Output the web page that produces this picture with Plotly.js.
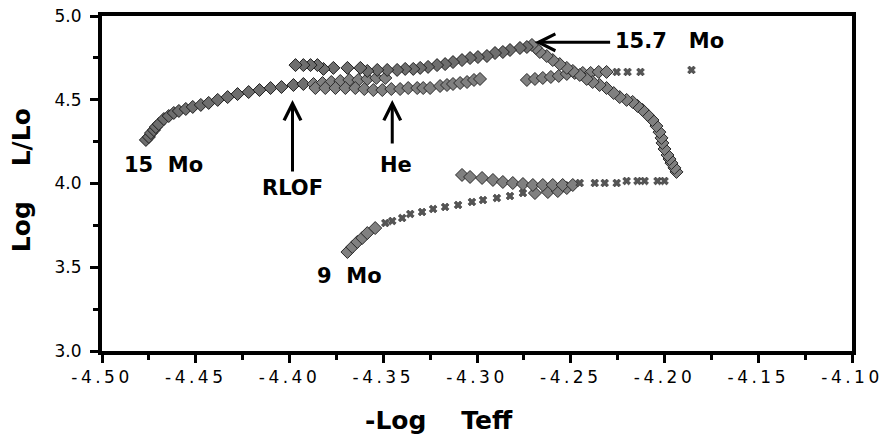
<!DOCTYPE html>
<html>
<head>
<meta charset="utf-8">
<script src="https://cdn.plot.ly/plotly-3.0.1.min.js"></script>
<style>
  html, body { margin: 0; padding: 0; background: #fff; }
  #plot { width: 885px; height: 435px; }
  #plot .xtick text { letter-spacing: 3.5px; }
</style>
</head>
<body>
<div id="plot"></div>
<script>
// ---- Data (x = -Log Teff, y = Log L/Lo) ----
// 15 Mo primary: ZAMS up to RLOF
const primaryZamsX = [-4.4766,-4.4750,-4.4739,-4.4723,-4.4713,-4.4697,-4.4670,-4.4644,-4.4617,-4.4590,-4.4553,-4.4516,-4.4473,-4.4431,-4.4383,-4.4330,-4.4277,-4.4218,-4.4160,-4.4101,-4.4043,-4.3979,-4.3926];
const primaryZamsY = [4.260,4.278,4.301,4.319,4.337,4.355,4.385,4.403,4.421,4.433,4.445,4.457,4.469,4.481,4.499,4.516,4.534,4.546,4.558,4.570,4.576,4.588,4.594];
// 15 Mo primary: RLOF to He
const primaryRlofX = [-4.3872,-4.3824,-4.3777,-4.3729,-4.3681,-4.3633,-4.3585,-4.3537,-4.3489,-4.3862,-4.3809,-4.3755,-4.3702,-4.3649,-4.3601,-4.3553,-4.3505,-4.3457,-4.3410,-4.3367];
const primaryRlofY = [4.594,4.600,4.606,4.612,4.618,4.618,4.624,4.630,4.630,4.570,4.570,4.570,4.570,4.570,4.564,4.558,4.558,4.564,4.564,4.570];
// primary after He
const primaryHeX = [-4.3319,-4.3287,-4.3250,-4.3197,-4.3160,-4.3128,-4.3090,-4.3053,-4.3016,-4.2984];
const primaryHeY = [4.570,4.570,4.570,4.582,4.588,4.594,4.600,4.606,4.618,4.624];
const primaryLateX = [-4.2734,-4.2691,-4.2649,-4.2606,-4.2564,-4.2521,-4.2479,-4.2436,-4.2394,-4.2351,-4.2309];
const primaryLateY = [4.618,4.624,4.630,4.636,4.642,4.654,4.660,4.660,4.660,4.666,4.666];
const primaryEndX = [-4.2255,-4.2197,-4.2128,-4.1856];
const primaryEndY = [4.666,4.666,4.666,4.678];

// 9 Mo secondary: start
const secStartX = [-4.3691,-4.3665,-4.3638,-4.3612,-4.3585,-4.3543];
const secStartY = [3.591,3.621,3.651,3.675,3.704,3.734];
const secRiseX = [-4.3489,-4.3452,-4.3399,-4.3356,-4.3293,-4.3234,-4.3170,-4.3101,-4.3027,-4.2968,-4.2894,-4.2824,-4.2755];
const secRiseY = [3.764,3.776,3.794,3.818,3.830,3.848,3.860,3.872,3.890,3.901,3.913,3.925,3.943];
const secClumpX = [-4.2691,-4.2622,-4.2569,-4.2521];
const secClumpY = [3.943,3.949,3.955,3.973];
// row near Log L = 4.0
const secRowX = [-4.3080,-4.3037,-4.2973,-4.2915,-4.2862,-4.2809,-4.2755,-4.2702,-4.2649,-4.2596,-4.2543,-4.2489];
const secRowY = [4.051,4.039,4.033,4.021,4.009,4.003,3.997,3.991,3.991,3.991,3.991,3.991];
const secRowEndX = [-4.2452,-4.2372,-4.2319,-4.2255,-4.2202,-4.2144,-4.2106,-4.2037,-4.2000];
const secRowEndY = [4.003,4.003,4.003,4.003,4.015,4.015,4.015,4.015,4.015];
// accretion loop up to 15.7 Mo
const secLoopX = [-4.1936,-4.1947,-4.1963,-4.1973,-4.1984,-4.2000,-4.2011,-4.2016,-4.2027,-4.2043,-4.2064,-4.2090,-4.2117,-4.2144,-4.2170,-4.2202,-4.2239,-4.2271,-4.2309,-4.2346,-4.2383,-4.2415,-4.2452,-4.2489,-4.2521,-4.2559,-4.2596,-4.2628,-4.2665,-4.2686,-4.2707];
const secLoopY = [4.069,4.093,4.122,4.146,4.170,4.206,4.242,4.272,4.307,4.343,4.379,4.409,4.439,4.463,4.487,4.499,4.516,4.540,4.570,4.588,4.606,4.624,4.648,4.672,4.690,4.713,4.737,4.761,4.785,4.809,4.827];
// 15.7 Mo back towards the main sequence
const secBackX = [-4.2734,-4.2771,-4.2824,-4.2862,-4.2904,-4.2947,-4.2995,-4.3037,-4.3080,-4.3128,-4.3170,-4.3213,-4.3261,-4.3303,-4.3340,-4.3383,-4.3426,-4.3479,-4.3532,-4.3585,-4.3622,-4.3691,-4.3766,-4.3819,-4.3851,-4.3888,-4.3926,-4.3968];
const secBackY = [4.815,4.809,4.797,4.785,4.779,4.761,4.755,4.749,4.737,4.725,4.713,4.707,4.696,4.690,4.684,4.684,4.678,4.678,4.678,4.672,4.690,4.690,4.690,4.684,4.707,4.707,4.707,4.707];

const xTickVals = [-4.50,-4.45,-4.40,-4.35,-4.30,-4.25,-4.20,-4.15,-4.10];
const xTickText = ['-4.50','-4.45','-4.40','-4.35','-4.30','-4.25','-4.20','-4.15','-4.10'];
const yTickVals = [3.0,3.5,4.0,4.5,5.0];
const yTickText = ['3.0','3.5','4.0','4.5','5.0'];

// ---- styles ----
const dense = {symbol:'diamond', size:10, color:'#808080', line:{color:'#2a2a2a', width:1}};
const big = {symbol:'diamond', size:10, color:'#6e6e6e', line:{color:'#1e1e1e', width:1}};
const sparse = {symbol:'x', size:7, color:'#555555', line:{color:'#222', width:0.5}};

function tr(x, y, m) { return {x:x, y:y, type:'scatter', mode:'markers', marker:m, hoverinfo:'x+y', showlegend:false}; }

const traces = [
  tr(primaryZamsX, primaryZamsY, big),
  tr(primaryRlofX, primaryRlofY, dense),
  tr(primaryHeX, primaryHeY, dense),
  tr(primaryLateX, primaryLateY, dense),
  tr(primaryEndX, primaryEndY, sparse),
  tr(secStartX, secStartY, dense),
  tr(secRiseX, secRiseY, sparse),
  tr(secClumpX, secClumpY, dense),
  tr(secRowX, secRowY, dense),
  tr(secRowEndX, secRowEndY, sparse),
  tr(secLoopX, secLoopY, dense),
  tr(secBackX, secBackY, big)
];

const lblFont = {family:'DejaVu Sans', size:21, color:'#000', weight:'bold'};
const titleFont = {family:'DejaVu Sans', size:25, color:'#000', weight:'bold'};

function arrow(x, y, ax, ay) {
  return {x:x, y:y, ax:ax, ay:ay, xref:'x', yref:'y', axref:'x', ayref:'y',
          text:'', showarrow:true, arrowhead:5, arrowsize:1.1, arrowwidth:3, arrowcolor:'#000', standoff:0, startstandoff:0};
}
function label(x, y, t, xa) {
  return {x:x, y:y, xref:'x', yref:'y', text:t, showarrow:false, font:lblFont, xanchor:xa||'center', yanchor:'middle'};
}

const annotations = [
  label(-4.467, 4.113, '15  Mo'),
  label(-4.3984, 3.973, 'RLOF'),
  label(-4.3431, 4.110, 'He'),
  label(-4.3681, 3.448, '9  Mo'),
  label(-4.2277, 4.851, '15.7   Mo', 'left'),
  arrow(-4.3984, 4.499, -4.3984, 4.063),
  arrow(-4.3452, 4.499, -4.3452, 4.230),
  arrow(-4.2691, 4.843, -4.2282, 4.843),
  {x:0.4495, y:-0.206, xref:'paper', yref:'paper', text:'-Log    Teff', showarrow:false, font:titleFont, xanchor:'center', yanchor:'middle'},
  {x:-0.108, y:0.51, xref:'paper', yref:'paper', text:'Log    L/Lo', showarrow:false, font:titleFont, textangle:-90, xanchor:'center', yanchor:'middle'}
];

const layout = {
  width:885, height:435,
  margin:{l:102, r:33, t:16, b:84},
  paper_bgcolor:'#fff', plot_bgcolor:'#fff',
  showlegend:false,
  xaxis:{range:[-4.5,-4.1], tickvals:xTickVals, ticktext:xTickText, ticks:'outside', ticklen:8, tickwidth:3, tickcolor:'#000',
         showline:true, linewidth:4, linecolor:'#000', mirror:true, showgrid:false, zeroline:false,
         tickfont:{family:'DejaVu Sans', size:17, color:'#000'},
         minor:{dtick:0.025, tick0:-4.5, ticks:'outside', ticklen:5, tickwidth:3, tickcolor:'#000', showgrid:false}},
  yaxis:{range:[3.0,5.0], tickvals:yTickVals, ticktext:yTickText, ticks:'outside', ticklen:8, tickwidth:3, tickcolor:'#000',
         showline:true, linewidth:4, linecolor:'#000', mirror:true, showgrid:false, zeroline:false, ticklabelstandoff:5,
         tickfont:{family:'DejaVu Sans', size:17, color:'#000'},
         minor:{dtick:0.25, tick0:3.0, ticks:'outside', ticklen:5, tickwidth:3, tickcolor:'#000', showgrid:false}},
  annotations:annotations
};

Plotly.newPlot('plot', traces, layout, {displayModeBar:false, staticPlot:true});
</script>
</body>
</html>
